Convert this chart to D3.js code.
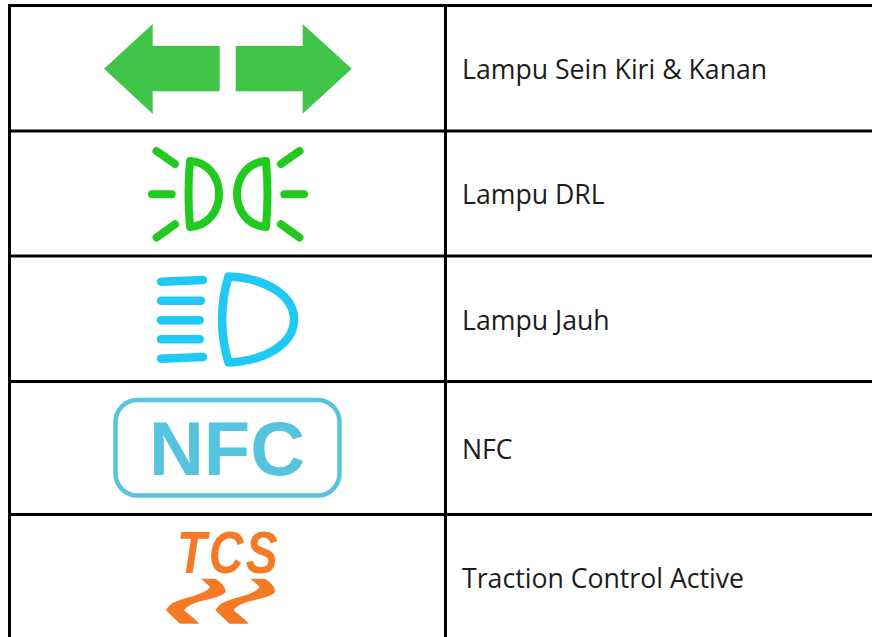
<!DOCTYPE html>
<html>
<head>
<meta charset="utf-8">
<title>Lampu indikator</title>
<script src="https://d3js.org/d3.v7.min.js"></script>
<style>
  html, body { margin: 0; padding: 0; background: white; overflow: hidden; }
  svg { display: block; }
  .label { font-family: "Open Sans", sans-serif; font-size: 26.67px; fill: #1c1c1c; }
  .rule { stroke: black; stroke-width: 3; }
</style>
</head>
<body>
<script>
// table content
var labels = ["Lampu Sein Kiri & Kanan", "Lampu DRL", "Lampu Jauh", "NFC", "Traction Control Active"];
var icons = ["arrows", "drl", "highbeam", "nfc", "tcs"];

var width = 872, height = 637;

var svg = d3.select("body").append("svg")
  .attr("width", width)
  .attr("height", height);

// row layout
var rowTop = d3.scaleOrdinal().domain(labels).range([5.5, 131, 256, 381.5, 514.5]);
var baseline = d3.scaleOrdinal().domain(labels).range([79, 204, 330, 459, 588]);

var left = 9.5, divider = 445.5;

svg.selectAll(".row-rule")
  .data(labels)
  .enter().append("line")
  .attr("class", "rule row-rule")
  .attr("x1", left - 1.5)
  .attr("x2", width)
  .attr("y1", function(d) { return rowTop(d); })
  .attr("y2", function(d) { return rowTop(d); });

svg.selectAll(".col-rule")
  .data([left, divider])
  .enter().append("line")
  .attr("class", "rule col-rule")
  .attr("x1", function(d) { return d; })
  .attr("x2", function(d) { return d; })
  .attr("y1", rowTop(labels[0]) - 1.5)
  .attr("y2", height);

svg.selectAll(".label")
  .data(labels)
  .enter().append("text")
  .attr("class", "label")
  .attr("x", 462)
  .attr("y", function(d) { return baseline(d); })
  .text(function(d) { return d; });

// icon drawings
var draw = {
  arrows: function(g) {
    g.append("path")
      .attr("fill", "#40c549")
      .attr("d", "M104,68.7L152.7,24V46H219.7V91.3H152.7V113.7Z" +
                 "M351.7,68.7L302.7,24V46H235.7V91.3H302.7V113.7Z");
  },
  drl: function(g) {
    var green = "#22c91e";
    var lamp = "M190,161C207,162 219,176 219,194C219,212 207,226 190,227C188,205 188,183 190,161Z";
    var rays = "M156.5,151L175,164M152,194.3H171.7M175,224.3L156.5,237.5";
    [1, -1].forEach(function(side) {
      var s = g.append("g")
        .attr("transform", side < 0 ? "translate(456,0) scale(-1,1)" : null)
        .attr("fill", "none")
        .attr("stroke", green)
        .attr("stroke-width", 8)
        .attr("stroke-linecap", "round")
        .attr("stroke-linejoin", "round");
      s.append("path").attr("d", lamp);
      s.append("path").attr("d", rays);
    });
  },
  highbeam: function(g) {
    var s = g.append("g")
      .attr("fill", "none")
      .attr("stroke", "#1fc8f5")
      .attr("stroke-width", 8.5)
      .attr("stroke-linecap", "round")
      .attr("stroke-linejoin", "round");
    s.append("path").attr("d", "M228.5,276.5C265,278 294,295 294,319.5C294,344 265,361 228.5,362.5C220,335 220,304 228.5,276.5Z");
    s.append("path").attr("d", "M161,281.7L203,280M161,300.7H201M161,320.3H199.7M161,339.3H199.7M161,358.7L203,357");
  },
  nfc: function(g) {
    g.append("rect")
      .attr("x", 115.5).attr("y", 400)
      .attr("width", 224).attr("height", 95.5)
      .attr("rx", 22)
      .attr("fill", "none")
      .attr("stroke", "#57c4df")
      .attr("stroke-width", 4.5);
    g.append("text")
      .attr("x", 227).attr("y", 474.5)
      .attr("text-anchor", "middle")
      .attr("font-family", "'Liberation Sans', sans-serif")
      .attr("font-weight", "bold")
      .attr("font-size", 76)
      .attr("fill", "#57c4df")
      .text("NFC");
  },
  tcs: function(g) {
    var orange = "#f47a25";
    g.append("text")
      .attr("transform", "translate(177,573) scale(0.8,1)")
      .attr("font-family", "'Liberation Sans', sans-serif")
      .attr("font-weight", "bold")
      .attr("font-style", "italic")
      .attr("font-size", 60)
      .attr("letter-spacing", 3)
      .attr("fill", orange)
      .text("TCS");
    var wave = "M200.7,578.7H215C221,582 225.7,587 225.7,592C224,594 220,596 216.7,597" +
               "C208,600 198,601 193.3,603.7C189,605 186,607.5 184,610.3" +
               "C190,615 195,619 199.3,623.7H180C175,619 170,614.5 166,610.3" +
               "C168,606 171,604 173.3,602.7C180,599.5 185,598.5 190,597" +
               "C197,595 203,593 206.7,590.3C208.5,589 209.5,588 210,587" +
               "C207,584 204,581 200.7,578.7Z";
    [0, 49.5].forEach(function(dx) {
      g.append("path")
        .attr("transform", "translate(" + dx + ",0)")
        .attr("fill", orange)
        .attr("d", wave);
    });
  }
};

svg.selectAll(".icon")
  .data(icons)
  .enter().append("g")
  .attr("class", "icon")
  .each(function(d) { draw[d](d3.select(this)); });
</script>
</body>
</html>
